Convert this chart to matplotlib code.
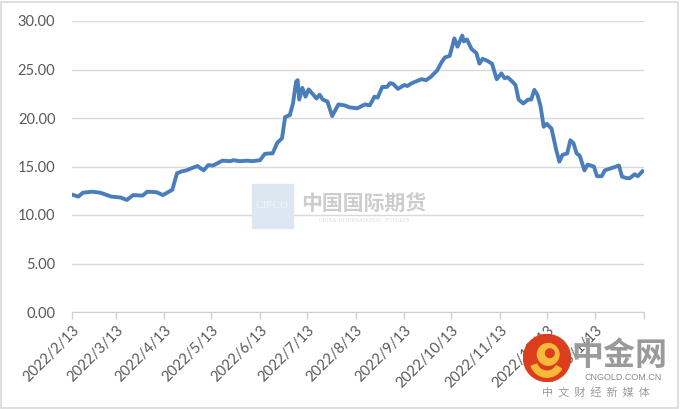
import matplotlib
matplotlib.use("Agg")
import matplotlib.pyplot as plt
import matplotlib.patches as mpatches
import pandas as pd

plt.rcParams['font.family'] = ['Lato', 'Noto Sans CJK SC', 'DejaVu Sans']

# values
dates = [
    "2022-02-13", "2022-02-17", "2022-02-20", "2022-02-26", "2022-03-03", "2022-03-10",
    "2022-03-16", "2022-03-20", "2022-03-24", "2022-03-30", "2022-04-02", "2022-04-08",
    "2022-04-12", "2022-04-18", "2022-04-21", "2022-04-24", "2022-04-27", "2022-04-30",
    "2022-05-04", "2022-05-08", "2022-05-11", "2022-05-14", "2022-05-20", "2022-05-25",
    "2022-05-27", "2022-05-31", "2022-06-05", "2022-06-08", "2022-06-13", "2022-06-16",
    "2022-06-19", "2022-06-21", "2022-06-24", "2022-06-27", "2022-06-29", "2022-07-02",
    "2022-07-04", "2022-07-06", "2022-07-07", "2022-07-08", "2022-07-10", "2022-07-12",
    "2022-07-14", "2022-07-17", "2022-07-19", "2022-07-21", "2022-07-23", "2022-07-26",
    "2022-07-29", "2022-08-02", "2022-08-06", "2022-08-09", "2022-08-14", "2022-08-19",
    "2022-08-22", "2022-08-25", "2022-08-27", "2022-08-30", "2022-09-02", "2022-09-04",
    "2022-09-06", "2022-09-09", "2022-09-13", "2022-09-15", "2022-09-18", "2022-09-24",
    "2022-09-27", "2022-09-30", "2022-10-04", "2022-10-07", "2022-10-09", "2022-10-12",
    "2022-10-15", "2022-10-17", "2022-10-20", "2022-10-21", "2022-10-23", "2022-10-26",
    "2022-10-29", "2022-10-31", "2022-11-02", "2022-11-05", "2022-11-08", "2022-11-11",
    "2022-11-14", "2022-11-16", "2022-11-18", "2022-11-21", "2022-11-23", "2022-11-25",
    "2022-11-28", "2022-12-01", "2022-12-03", "2022-12-05", "2022-12-07", "2022-12-09",
    "2022-12-11", "2022-12-13", "2022-12-16", "2022-12-19", "2022-12-21", "2022-12-23",
    "2022-12-26", "2022-12-28", "2022-12-30", "2023-01-01", "2023-01-03", "2023-01-06",
    "2023-01-08", "2023-01-12", "2023-01-14", "2023-01-17", "2023-01-19", "2023-01-28",
    "2023-01-30", "2023-02-02", "2023-02-04", "2023-02-07", "2023-02-09", "2023-02-12",
]
values = [
    12.1, 11.9, 12.3, 12.4, 12.3, 11.9,
    11.8, 11.55, 12.05, 12.0, 12.4, 12.35,
    12.05, 12.6, 14.3, 14.5, 14.6, 14.8,
    15.05, 14.6, 15.15, 15.1, 15.6, 15.55,
    15.65, 15.55, 15.6, 15.55, 15.65, 16.3,
    16.35, 16.35, 17.45, 17.9, 20.1, 20.3,
    21.5, 23.75, 23.9, 21.9, 23.1, 22.2,
    22.95, 22.4, 22.0, 22.4, 21.9, 21.7,
    20.2, 21.4, 21.3, 21.1, 21.0, 21.4,
    21.3, 22.2, 22.1, 23.2, 23.2, 23.6,
    23.5, 23.0, 23.4, 23.3, 23.6, 24.0,
    23.9, 24.25, 24.9, 25.8, 26.25, 26.4,
    28.2, 27.35, 28.5, 27.9, 28.1, 27.1,
    26.7, 25.6, 26.1, 25.9, 25.6, 24.0,
    24.6, 24.1, 24.2, 23.75, 23.4, 21.9,
    21.5, 21.9, 21.9, 22.9, 22.4, 21.2,
    19.1, 19.4, 18.9, 16.7, 15.5, 16.2,
    16.35, 17.7, 17.4, 16.35, 16.1, 14.6,
    15.2, 15.0, 14.0, 14.0, 14.6, 15.1,
    13.95, 13.8, 13.8, 14.2, 14.0, 14.5,
]
yticks = [0, 5, 10, 15, 20, 25, 30]

x = pd.to_datetime(dates)

fig = plt.figure(figsize=(6.8, 4.09), dpi=100)
ax = fig.add_axes([72 / 680, 1 - 312 / 409, (644 - 72) / 680, (312 - 21) / 409])

ax.plot(x, values, color='#4a7dbb', linewidth=2.8, solid_joinstyle='round', zorder=3)

ax.set_ylim(0, 30)
ax.set_yticks(yticks)
ax.set_yticklabels([f"{v:.2f}" for v in yticks])
ax.yaxis.grid(True, color='#d9d9d9', linewidth=1.0)
ax.set_axisbelow(True)

ticks = pd.date_range("2022-02-13", "2023-02-13", freq=pd.DateOffset(months=1))
ax.set_xlim(ticks[0], ticks[-1])
ax.set_xticks(ticks)
ax.set_xticklabels([f"{d.year}/{d.month}/{d.day}" for d in ticks[:-1]] + [""],
                   rotation=45, ha='right', rotation_mode='anchor')

for s in ['top', 'right', 'left']:
    ax.spines[s].set_visible(False)
ax.spines['bottom'].set_color('#d0d0d0')
ax.tick_params(axis='x', colors='#d0d0d0', length=5, width=1, labelcolor='#595959',
               labelsize=10.5, pad=3)
ax.tick_params(axis='y', length=0, labelcolor='#595959', labelsize=10.5, pad=12)

# chart border
fig.patches.append(mpatches.Rectangle((0.002, 0.003), 0.995, 0.993, transform=fig.transFigure,
                                      fill=False, edgecolor='#d9d9d9', linewidth=1.2))

# CIFCO watermark
fig.patches.append(mpatches.Rectangle((252 / 680, 1 - 228 / 409), 41 / 680, 44 / 409,
                                      transform=fig.transFigure, color='#dde7f2', zorder=1))
fig.text(272 / 680, 1 - 205 / 409, "CIFCO", color='#f4f7fb', fontsize=8, ha='center',
         va='center', family='Liberation Serif')
fig.text(364 / 680, 1 - 203 / 409, "中国国际期货", color='#cccccc', fontsize=15,
         ha='center', va='center', family=['Noto Sans CJK SC'], weight='bold')
fig.text(364 / 680, 1 - 220 / 409, "CHINA  INTERNATIONAL  FUTURES", color='#dcdcdc',
         fontsize=4, ha='center', va='center', family='Liberation Serif')

# cngold logo
logo = fig.add_axes([523 / 680, 1 - 382 / 409, 48 / 680, 48 / 409])
logo.set_xlim(-1, 1)
logo.set_ylim(-1, 1)
logo.set_aspect('equal')
logo.axis('off')
logo.add_patch(mpatches.Circle((0, 0), 0.98, color='#dc3d1c'))
logo.add_patch(mpatches.Circle((0.05, 0.15), 0.45, color='#f6b93b'))
logo.add_patch(mpatches.Circle((0.12, 0.2), 0.18, color='#dc3d1c'))
logo.add_patch(mpatches.Wedge((0.0, -0.1), 0.7, 200, 330, width=0.25, color='#f6b93b'))
fig.text(619 / 680, 1 - 356 / 409, "中金网", color='#9a9a9a', fontsize=23, ha='center',
         va='center', family=['Noto Sans CJK SC'], weight='bold')
fig.text(623 / 680, 1 - 378 / 409, "CNGOLD.COM.CN", color='#8a8a8a', fontsize=6.5,
         ha='center', va='center', family='Liberation Sans')
fig.text(596 / 680, 1 - 392 / 409, "中  文  财  经  新  媒  体", color='#9a9a9a', fontsize=8,
         ha='center', va='center', family=['Noto Sans CJK SC'])

fig.savefig("out.png", dpi=100)
